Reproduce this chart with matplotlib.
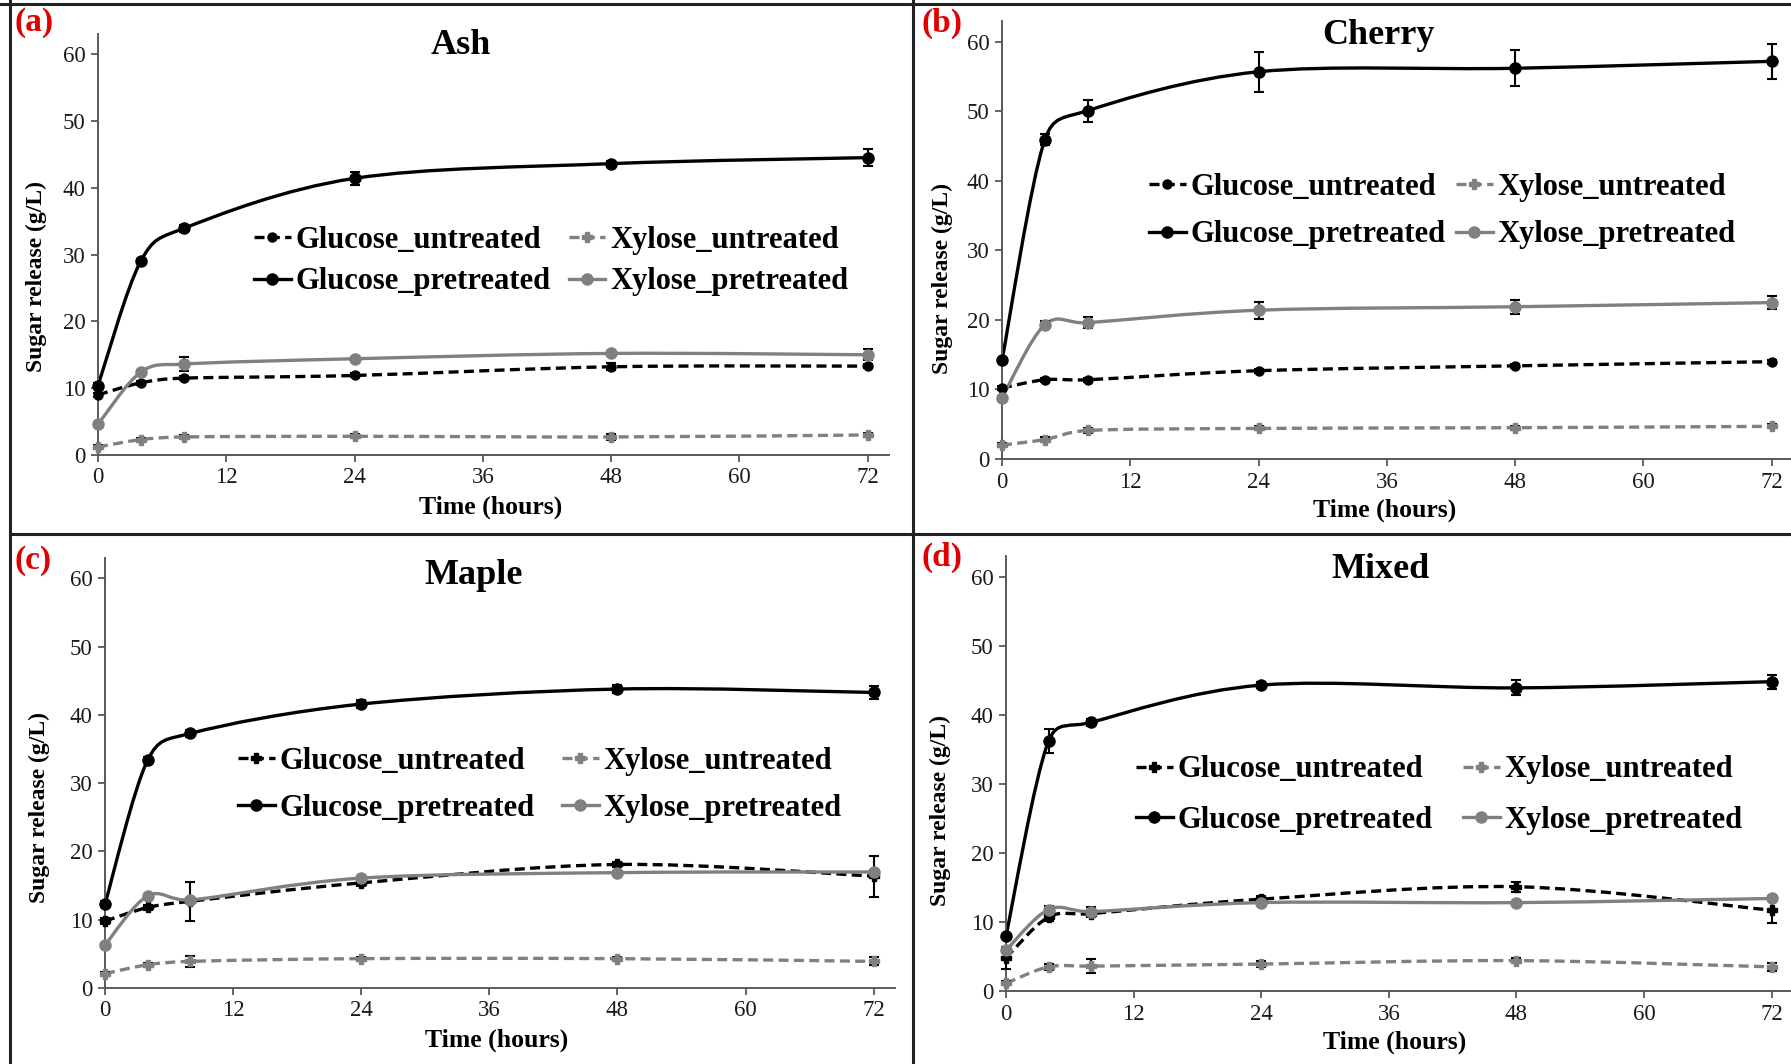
import numpy as np
import matplotlib
matplotlib.use("Agg")
import matplotlib.pyplot as plt
from matplotlib.path import Path
from matplotlib.patches import PathPatch
from matplotlib.lines import Line2D

plt.rcParams['font.family'] = ['Liberation Serif', 'DejaVu Serif']

hours = [0, 4, 8, 24, 48, 72]

# Ash
ash_glu_unt = [9.0, 10.8, 11.5, 11.9, 13.2, 13.3]
ash_glu_unt_err = [0.3, 0.3, 0.3, 0.3, 0.5, 0.3]
ash_xyl_unt = [1.2, 2.3, 2.7, 2.8, 2.7, 3.0]
ash_xyl_unt_err = [0.3, 0.3, 0.3, 0.3, 0.4, 0.3]
ash_glu_pre = [10.4, 29.0, 33.9, 41.4, 43.6, 44.5]
ash_glu_pre_err = [0.3, 0.3, 0.5, 1.0, 0.4, 1.3]
ash_xyl_pre = [4.6, 12.4, 13.6, 14.4, 15.2, 15.0]
ash_xyl_pre_err = [0.3, 0.3, 1.0, 0.3, 0.3, 0.8]

# Cherry
che_glu_unt = [10.2, 11.4, 11.4, 12.7, 13.4, 14.0]
che_glu_unt_err = [0.3, 0.3, 0.3, 0.3, 0.3, 0.3]
che_xyl_unt = [2.0, 2.8, 4.1, 4.4, 4.5, 4.7]
che_xyl_unt_err = [0.3, 0.3, 0.3, 0.3, 0.3, 0.3]
che_glu_pre = [14.2, 45.9, 50.1, 55.7, 56.2, 57.2]
che_glu_pre_err = [0.3, 0.8, 1.6, 2.9, 2.6, 2.5]
che_xyl_pre = [8.8, 19.3, 19.6, 21.4, 21.9, 22.5]
che_xyl_pre_err = [0.3, 0.5, 0.8, 1.2, 1.0, 0.9]

# Maple
map_glu_unt = [9.8, 11.8, 12.7, 15.4, 18.1, 16.4]
map_glu_unt_err = [0.4, 0.4, 2.9, 0.4, 0.4, 3.0]
map_xyl_unt = [2.1, 3.4, 3.9, 4.3, 4.3, 3.9]
map_xyl_unt_err = [0.3, 0.3, 0.8, 0.3, 0.3, 0.6]
map_glu_pre = [12.3, 33.4, 37.3, 41.6, 43.8, 43.3]
map_glu_pre_err = [0.4, 0.4, 0.5, 0.6, 0.6, 0.9]
map_xyl_pre = [6.3, 13.5, 12.9, 16.1, 16.9, 17.0]
map_xyl_pre_err = [0.3, 0.3, 0.3, 0.3, 0.3, 0.3]

# Mixed
mix_glu_unt = [4.8, 10.7, 11.2, 13.3, 15.1, 11.7]
mix_glu_unt_err = [1.6, 0.5, 0.5, 0.4, 0.7, 1.8]
mix_xyl_unt = [1.1, 3.5, 3.6, 3.9, 4.4, 3.5]
mix_xyl_unt_err = [0.3, 0.4, 1.0, 0.4, 0.4, 0.6]
mix_glu_pre = [8.0, 36.2, 38.9, 44.3, 43.9, 44.8]
mix_glu_pre_err = [0.3, 1.8, 0.5, 0.4, 1.1, 1.0]
mix_xyl_pre = [5.9, 11.8, 11.5, 12.8, 12.8, 13.4]
mix_xyl_pre_err = [0.3, 0.5, 0.6, 0.3, 0.3, 0.4]

titles = ["Ash", "Cherry", "Maple", "Mixed"]
tags = ["(a)", "(b)", "(c)", "(d)"]
names = ["Glucose_untreated", "Glucose_pretreated", "Xylose_untreated", "Xylose_pretreated"]

W, H = 1791, 1064
BLACK, GREY = "#000000", "#808080"


def smooth_path(x, y, sx, sy):
    """ Excel-like smoothed line as bezier path, sx/sy = pixels per unit """
    pts = np.column_stack([x, y]).astype(float)
    scale = np.array([sx, sy])
    dist = lambda a, b: np.hypot(*((b - a) * scale))
    n = len(pts)
    verts, codes = [pts[0]], [Path.MOVETO]
    for i in range(n - 1):
        p0 = pts[i - 1] if i > 0 else pts[i]
        p1, p2 = pts[i], pts[i + 1]
        p3 = pts[i + 2] if i + 2 < n else pts[i + 1]
        d12, d02, d13 = dist(p1, p2), dist(p0, p2), dist(p1, p3)
            # Keep control arms shorter than half the segment
        f0 = 1 / 6 if d02 / 6 < d12 / 2 else d12 / (2 * d02)
        f1 = 1 / 6 if d13 / 6 < d12 / 2 else d12 / (2 * d13)
        verts += [p1 + (p2 - p0) * f0, p2 - (p3 - p1) * f1, p2]
        codes += [Path.CURVE4] * 3
    return Path(verts, codes)


def fx(px): return px / W
def fy(py): return 1 - py / H


# axes boxes in pixels: left, x-extent, y0 pixel, y-top pixel
boxes = [(98, 791, 455, 34), (1002, 791, 459, 21),
         (105, 790, 988, 558), (1006, 787, 991, 556)]
title_pos = [(461, 46), (1379, 35), (474, 575), (1381, 570)]
tag_pos = [(14, 23), (921, 23), (15, 560), (922, 557)]
ylab_pos = [(-0.064, 0.423), (-0.062, 0.412), (-0.070, 0.419), (-0.070, 0.414)]
xlab_pos = [(0.496, -0.097), (0.484, -0.0915), (0.496, -0.095), (0.494, -0.092)]
leg_pos = [(254, 261), (1149, 211), (238, 785), (1136, 795)]
leg_space = [0.42, 0.62, 0.58, 0.7]
leg_colsp = [0.6, 0.35, 0.9, 1.0]

panels = [
    [(ash_glu_unt, ash_glu_unt_err), (ash_glu_pre, ash_glu_pre_err),
     (ash_xyl_unt, ash_xyl_unt_err), (ash_xyl_pre, ash_xyl_pre_err)],
    [(che_glu_unt, che_glu_unt_err), (che_glu_pre, che_glu_pre_err),
     (che_xyl_unt, che_xyl_unt_err), (che_xyl_pre, che_xyl_pre_err)],
    [(map_glu_unt, map_glu_unt_err), (map_glu_pre, map_glu_pre_err),
     (map_xyl_unt, map_xyl_unt_err), (map_xyl_pre, map_xyl_pre_err)],
    [(mix_glu_unt, mix_glu_unt_err), (mix_glu_pre, mix_glu_pre_err),
     (mix_xyl_unt, mix_xyl_unt_err), (mix_xyl_pre, mix_xyl_pre_err)],
]

fig = plt.figure(figsize=(W / 100, H / 100), dpi=100)

    # panel frame lines
frame_kw = dict(color="#222222", lw=2.2, transform=fig.transFigure)
fig.add_artist(Line2D([fx(0), fx(W)], [fy(4), fy(4)], **frame_kw))
fig.add_artist(Line2D([fx(10), fx(10)], [fy(0), fy(H)], **frame_kw))
fig.add_artist(Line2D([fx(913), fx(913)], [fy(0), fy(H)], **frame_kw))
fig.add_artist(Line2D([fx(10), fx(W)], [fy(534), fy(534)], **frame_kw))

for k in range(4):
    left, wid, y0, ytop = boxes[k]
    ax = fig.add_axes([fx(left), fy(y0), wid / W, (y0 - ytop) / H])
    ax.set_xlim(0, 74)
    ax.set_ylim(0, 63)
    sx, sy = wid / 74, (y0 - ytop) / 63

    glu_unt_marker = "o" if k < 2 else "P"
    styles = [
        dict(color=BLACK, ls=(0, (3, 1.6)), marker=glu_unt_marker, ms=6.5 if k < 2 else 7.5),
        dict(color=BLACK, ls="-", marker="o", ms=8),
        dict(color=GREY, ls=(0, (3, 1.6)), marker="P", ms=7.5),
        dict(color=GREY, ls="-", marker="o", ms=8),
    ]

    handles = []
    for (vals, err), st, nm in zip(panels[k], styles, names):
        patch = PathPatch(smooth_path(hours, vals, sx, sy), fill=False, edgecolor=st["color"],
                          lw=2.4, linestyle=st["ls"], clip_on=False, zorder=2)
        ax.add_patch(patch)
        ax.errorbar(hours, vals, yerr=err, fmt="none", ecolor=BLACK,
                    elinewidth=1.5, capsize=3.5, capthick=1.5, zorder=3, clip_on=False)
        ax.plot(hours, vals, ls="none", marker=st["marker"], ms=st["ms"],
                color=st["color"], zorder=4, clip_on=False)
        handles.append(Line2D([], [], color=st["color"], ls=st["ls"], lw=2.4,
                              marker=st["marker"], ms=st["ms"], label=nm))

    ax.legend(handles=handles, ncol=2, loc="center left", frameon=False,
              bbox_to_anchor=(fx(leg_pos[k][0]), fy(leg_pos[k][1])),
              bbox_transform=fig.transFigure, handlelength=1.2,
              prop=dict(size=22, weight="bold"),
              handletextpad=0.15, columnspacing=leg_colsp[k], labelspacing=leg_space[k],
              borderpad=0, borderaxespad=0)

    ax.set_xticks([0, 12, 24, 36, 48, 60, 72])
    ax.set_yticks([0, 10, 20, 30, 40, 50, 60])
    for s in ["top", "right"]:
        ax.spines[s].set_visible(False)
    for s in ["left", "bottom"]:
        ax.spines[s].set_color("#595959")
        ax.spines[s].set_linewidth(1.4)
    ax.tick_params(axis="both", labelsize=16.5, length=5, width=1.3, color="#595959",
                   labelcolor="#1a1a1a", pad=4)

    ax.set_xlabel("Time (hours)", fontsize=18.5, fontweight="bold")
    ax.set_ylabel("Sugar release (g/L)", fontsize=17, fontweight="bold")
    ax.xaxis.set_label_coords(*xlab_pos[k])
    ax.yaxis.set_label_coords(*ylab_pos[k])

    fig.text(fx(title_pos[k][0]), fy(title_pos[k][1]), titles[k], fontsize=26,
             fontweight="bold", ha="center", va="center")
    fig.text(fx(tag_pos[k][0]), fy(tag_pos[k][1]), tags[k], fontsize=24,
             fontweight="bold", color="#e00000", ha="left", va="center")

fig.savefig("out.png", dpi=100)
